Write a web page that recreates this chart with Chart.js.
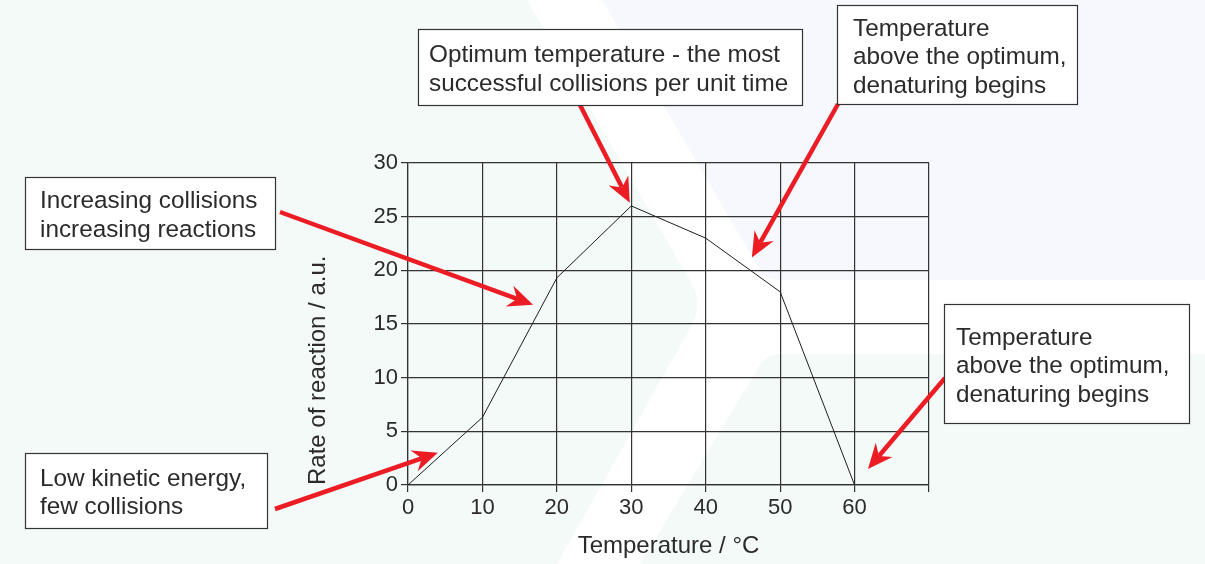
<!DOCTYPE html>
<html>
<head>
<meta charset="utf-8">
<script src="https://cdn.jsdelivr.net/npm/chart.js@4"></script>
<style>
  html, body { margin: 0; padding: 0; background: #f3faf8; overflow: hidden; }
  #wrap { width: 1205px; height: 564px; }
</style>
</head>
<body>
<div id="wrap"><canvas id="chart" width="1205" height="564"></canvas></div>
<script>
// Rate of reaction vs temperature

const temperatures = [0, 10, 20, 30, 40, 50, 60];
const rates = [0, 6.3, 19.3, 26, 23, 18, 0];
const xTickValues = [0, 10, 20, 30, 40, 50, 60];
const yTickValues = [0, 5, 10, 15, 20, 25, 30];

const FONT = "'Liberation Sans', Arial, sans-serif";
const INK = "#2b2b2b";
const RED = "#ec1c24";

// callout boxes (pixels) and arrow tips (data units)
const notes = [
  { text: ["Increasing collisions", "increasing reactions"], box: [25, 177, 250, 72], pad: 15, start: [280, 212], tip: [16.8, 16.8] },
  { text: ["Low kinetic energy,", "few collisions"], box: [25, 453, 242, 75], pad: 15, start: [275, 509], tip: [4.0, 3.0] },
  { text: ["Optimum temperature - the most", "successful collisions per unit time"], box: [418, 29, 384, 76], pad: 11, start: [580, 105], tip: [29.8, 26.3] },
  { text: ["Temperature", "above the optimum,", "denaturing begins"], box: [837, 5, 240, 99], pad: 16, start: [838, 104], tip: [46.2, 21.2] },
  { text: ["Temperature", "above the optimum,", "denaturing begins"], box: [944, 304, 245, 119], pad: 12, start: [945, 378], tip: [61.8, 1.5] },
];

// soft background shapes
const backdrop = {
  id: "backdrop",
  beforeDraw(chart) {
    const c = chart.ctx;
    const W = chart.width, H = chart.height;
    c.save();
    c.fillStyle = "#f3faf8";
    c.fillRect(0, 0, W, H);

    // white chevron band and everything right of it
    c.fillStyle = "#ffffff";
    c.beginPath();
    c.moveTo(527, 0);
    c.lineTo(W, 0);
    c.lineTo(W, H);
    c.lineTo(557, H);
    c.lineTo(688, 332);
    c.quadraticCurveTo(704, 307, 692, 284);
    c.closePath();
    c.fill();

    // lavender block top right
    c.fillStyle = "#f6f8fd";
    c.beginPath();
    c.moveTo(602, 0);
    c.lineTo(W, 0);
    c.lineTo(W, 280);
    c.lineTo(780, 280);
    c.quadraticCurveTo(765, 280, 757, 265);
    c.closePath();
    c.fill();

    // mint block bottom right
    c.fillStyle = "#f3faf8";
    c.beginPath();
    c.moveTo(780, 354);
    c.lineTo(W, 354);
    c.lineTo(W, H);
    c.lineTo(640, H);
    c.lineTo(758, 368);
    c.quadraticCurveTo(766, 354, 780, 354);
    c.closePath();
    c.fill();
    c.restore();
  },
};

function arrow(c, x0, y0, x1, y1) {
  const dx = x1 - x0, dy = y1 - y0;
  const len = Math.hypot(dx, dy);
  const ux = dx / len, uy = dy / len;
  const nx = -uy, ny = ux;
  const L = 25, Wd = 11, notch = 8;
  c.strokeStyle = RED;
  c.fillStyle = RED;
  c.lineWidth = 4.5;
  c.beginPath();
  c.moveTo(x0, y0);
  c.lineTo(x1 - ux * (L - notch), y1 - uy * (L - notch));
  c.stroke();
  c.beginPath();
  c.moveTo(x1, y1);
  c.lineTo(x1 - ux * L + nx * Wd, y1 - uy * L + ny * Wd);
  c.lineTo(x1 - ux * (L - notch), y1 - uy * (L - notch));
  c.lineTo(x1 - ux * L - nx * Wd, y1 - uy * L - ny * Wd);
  c.closePath();
  c.fill();
}

const callouts = {
  id: "callouts",
  afterDraw(chart) {
    const c = chart.ctx;
    const xs = chart.scales.x, ys = chart.scales.y;
    c.save();
    notes.forEach(n => {
      arrow(c, n.start[0], n.start[1], xs.getPixelForValue(n.tip[0]), ys.getPixelForValue(n.tip[1]));
    });
    notes.forEach(n => {
      const [bx, by, bw, bh] = n.box;
      c.fillStyle = "#ffffff";
      c.fillRect(bx, by, bw, bh);
      c.strokeStyle = "#333333";
      c.lineWidth = 1.2;
      c.strokeRect(bx + 0.5, by + 0.5, bw, bh);
      c.fillStyle = INK;
      c.font = "24.3px " + FONT;
      c.textAlign = "left";
      c.textBaseline = "alphabetic";
      const lh = 28.5;
      const mid = by + bh / 2;
      n.text.forEach((t, i) => {
        const cy = mid + (i - (n.text.length - 1) / 2) * lh;
        c.fillText(t, bx + n.pad, cy + 9.5);
      });
    });
    c.restore();
  },
};

new Chart(document.getElementById("chart"), {
  type: "line",
  data: {
    datasets: [{
      label: "Rate of reaction",
      data: temperatures.map((t, i) => ({ x: t, y: rates[i] })),
      borderColor: "#1e1e1e",
      borderWidth: 1,
      pointRadius: 0,
      tension: 0,
      fill: false,
    }],
  },
  options: {
    responsive: false,
    animation: false,
    devicePixelRatio: 1,
    layout: {
      padding: { left: 300, right: 276, top: 163, bottom: 0 },
    },
    plugins: {
      legend: { display: false },
      tooltip: { enabled: false },
    },
    scales: {
      x: {
        type: "linear",
        min: 0,
        max: 70,
        afterFit(scale) { scale.height = 79; },
        afterBuildTicks(scale) {
          scale.ticks = xTickValues.concat([70]).map(v => ({ value: v }));
        },
        border: { display: true, color: "#333", width: 1.2 },
        grid: { color: "#333", lineWidth: 1.2, tickLength: 7, drawTicks: true },
        ticks: {
          color: INK,
          font: { family: FONT, size: 22 },
          padding: 3,
          maxRotation: 0,
          autoSkip: false,
          callback: v => (xTickValues.includes(v) ? String(v) : ""),
        },
        title: {
          display: true,
          text: "Temperature / °C",
          color: INK,
          font: { family: FONT, size: 24 },
          padding: { top: 0, bottom: 3 },
        },
      },
      y: {
        min: 0,
        max: 30,
        afterFit(scale) { scale.width = 108; },
        afterBuildTicks(scale) {
          scale.ticks = yTickValues.map(v => ({ value: v }));
        },
        border: { display: true, color: "#333", width: 1.2 },
        grid: { color: "#333", lineWidth: 1.2, tickLength: 7, drawTicks: true },
        ticks: {
          color: INK,
          font: { family: FONT, size: 22 },
          padding: 3,
          autoSkip: false,
        },
        title: {
          display: true,
          text: "Rate of reaction / a.u.",
          align: "start",
          color: INK,
          font: { family: FONT, size: 24 },
          padding: { top: 4, bottom: 0 },
        },
      },
    },
  },
  plugins: [backdrop, callouts],
});
</script>
</body>
</html>
